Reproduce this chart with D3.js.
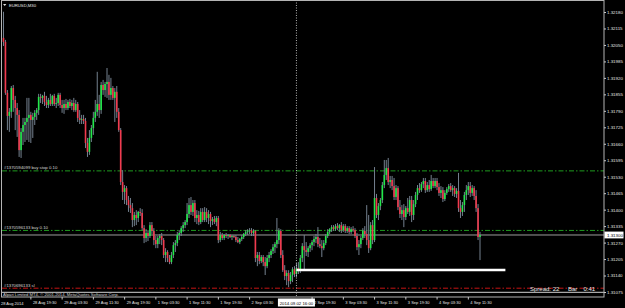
<!DOCTYPE html>
<html>
<head>
<meta charset="utf-8">
<script src="https://cdn.jsdelivr.net/npm/d3@7"></script>
<style>
  html, body { margin: 0; padding: 0; background: #000; }
  svg { display: block; font-family: "Liberation Sans", Arial, sans-serif; }
</style>
</head>
<body>
<div id="chart"></div>
<script>
(function() {

  var symbolLabel = "EURUSD,M30";

  // EURUSD M30 bars, 28 Aug 2014 13:00 .. 4 Sep 2014 15:00
  var barOpen = [
    1.32078,1.32062,1.31861,1.31770,1.31786,1.31880,1.31833,1.31801,1.31774,1.31635,
    1.31707,1.31734,1.31746,1.31762,1.31774,1.31754,1.31766,1.31782,1.31793,1.31845,
    1.31841,1.31849,1.31825,1.31813,1.31833,1.31817,1.31849,1.31817,1.31821,1.31853,
    1.31813,1.31801,1.31817,1.31801,1.31825,1.31809,1.31821,1.31793,1.31817,1.31762,
    1.31754,1.31758,1.31750,1.31663,1.31628,1.31683,1.31722,1.31762,1.31786,1.31817,
    1.31793,1.31892,1.31872,1.31896,1.31904,1.31853,1.31880,1.31841,1.31865,1.31786,
    1.31714,1.31509,1.31470,1.31485,1.31438,1.31418,1.31406,1.31359,1.31379,1.31367,
    1.31391,1.31387,1.31327,1.31288,1.31308,1.31296,1.31339,1.31316,1.31280,1.31264,
    1.31288,1.31296,1.31280,1.31221,1.31233,1.31209,1.31193,1.31221,1.31260,1.31268,
    1.31300,1.31308,1.31327,1.31339,1.31351,1.31383,1.31418,1.31391,1.31426,1.31367,
    1.31379,1.31351,1.31391,1.31359,1.31391,1.31367,1.31383,1.31355,1.31363,1.31351,
    1.31367,1.31280,1.31300,1.31288,1.31300,1.31296,1.31300,1.31292,1.31296,1.31292,
    1.31280,1.31272,1.31284,1.31292,1.31304,1.31312,1.31316,1.31319,1.31308,1.31316,
    1.31209,1.31221,1.31197,1.31213,1.31193,1.31177,1.31209,1.31221,1.31237,1.31252,
    1.31264,1.31280,1.31316,1.31221,1.31161,1.31138,1.31150,1.31118,1.31142,1.31165,
    1.31146,1.31169,1.31158,1.31209,1.31256,1.31240,1.31233,1.31248,1.31260,1.31272,
    1.31284,1.31292,1.31264,1.31256,1.31248,1.31268,1.31296,1.31312,1.31323,1.31331,
    1.31323,1.31335,1.31327,1.31339,1.31319,1.31335,1.31316,1.31327,1.31312,1.31323,
    1.31319,1.31296,1.31252,1.31264,1.31288,1.31316,1.31304,1.31280,1.31248,1.31339,
    1.31280,1.31446,1.31379,1.31414,1.31438,1.31497,1.31537,1.31564,1.31509,1.31517,
    1.31493,1.31450,1.31485,1.31410,1.31383,1.31398,1.31371,1.31406,1.31391,1.31438,
    1.31379,1.31422,1.31458,1.31485,1.31477,1.31501,1.31513,1.31477,1.31497,1.31481,
    1.31513,1.31493,1.31513,1.31489,1.31466,1.31477,1.31442,1.31466,1.31481,1.31493,
    1.31477,1.31485,1.31462,1.31474,1.31406,1.31391,1.31418,1.31458,1.31477,1.31493,
    1.31466,1.31485,1.31454,1.31406,1.31292
  ];

  var barHigh = [
    1.32181,1.32070,1.31872,1.31801,1.31888,1.31892,1.31849,1.31821,1.31793,1.31722,
    1.31762,1.31762,1.31841,1.31841,1.31786,1.31782,1.31793,1.31801,1.31857,1.31857,
    1.31853,1.31865,1.31849,1.31841,1.31857,1.31853,1.31857,1.31841,1.31861,1.31861,
    1.31833,1.31833,1.31837,1.31833,1.31837,1.31833,1.31841,1.31833,1.31825,1.31793,
    1.31774,1.31774,1.31762,1.31683,1.31714,1.31734,1.31786,1.31833,1.31944,1.31853,
    1.31904,1.31912,1.31904,1.31959,1.31932,1.31920,1.31888,1.31880,1.31888,1.31801,
    1.31722,1.31556,1.31497,1.31493,1.31454,1.31446,1.31426,1.31391,1.31398,1.31395,
    1.31406,1.31402,1.31339,1.31323,1.31319,1.31351,1.31351,1.31327,1.31296,1.31296,
    1.31304,1.31308,1.31288,1.31248,1.31240,1.31221,1.31233,1.31272,1.31280,1.31312,
    1.31319,1.31335,1.31351,1.31359,1.31426,1.31446,1.31450,1.31438,1.31438,1.31398,
    1.31395,1.31406,1.31406,1.31410,1.31406,1.31398,1.31391,1.31371,1.31375,1.31375,
    1.31375,1.31312,1.31308,1.31304,1.31308,1.31304,1.31304,1.31300,1.31300,1.31300,
    1.31292,1.31288,1.31300,1.31308,1.31319,1.31323,1.31327,1.31327,1.31323,1.31319,
    1.31233,1.31233,1.31221,1.31221,1.31213,1.31221,1.31233,1.31244,1.31264,1.31272,
    1.31367,1.31327,1.31323,1.31240,1.31181,1.31161,1.31161,1.31154,1.31173,1.31177,
    1.31189,1.31193,1.31221,1.31268,1.31300,1.31272,1.31256,1.31268,1.31280,1.31296,
    1.31304,1.31331,1.31288,1.31280,1.31280,1.31304,1.31323,1.31327,1.31339,1.31339,
    1.31343,1.31347,1.31343,1.31351,1.31343,1.31343,1.31335,1.31335,1.31331,1.31335,
    1.31327,1.31308,1.31280,1.31296,1.31327,1.31335,1.31418,1.31379,1.31351,1.31359,
    1.31568,1.31462,1.31426,1.31446,1.31509,1.31596,1.31596,1.31604,1.31533,1.31533,
    1.31525,1.31497,1.31493,1.31438,1.31418,1.31422,1.31414,1.31446,1.31454,1.31454,
    1.31438,1.31470,1.31497,1.31505,1.31509,1.31525,1.31525,1.31509,1.31517,1.31537,
    1.31525,1.31525,1.31525,1.31505,1.31493,1.31489,1.31477,1.31489,1.31501,1.31505,
    1.31497,1.31493,1.31485,1.31545,1.31438,1.31430,1.31470,1.31497,1.31509,1.31509,
    1.31497,1.31493,1.31477,1.31422,1.31312
  ];

  var barLow = [
    1.32046,1.31853,1.31714,1.31707,1.31762,1.31786,1.31714,1.31687,1.31608,1.31604,
    1.31655,1.31667,1.31675,1.31667,1.31663,1.31683,1.31734,1.31754,1.31774,1.31821,
    1.31817,1.31809,1.31801,1.31801,1.31809,1.31809,1.31809,1.31801,1.31809,1.31801,
    1.31782,1.31778,1.31793,1.31793,1.31801,1.31793,1.31786,1.31786,1.31746,1.31738,
    1.31738,1.31738,1.31643,1.31608,1.31616,1.31667,1.31695,1.31746,1.31770,1.31762,
    1.31778,1.31853,1.31845,1.31841,1.31833,1.31833,1.31833,1.31746,1.31762,1.31707,
    1.31497,1.31438,1.31422,1.31418,1.31391,1.31387,1.31331,1.31335,1.31339,1.31351,
    1.31375,1.31319,1.31268,1.31272,1.31276,1.31288,1.31304,1.31260,1.31248,1.31248,
    1.31264,1.31260,1.31209,1.31193,1.31193,1.31185,1.31185,1.31209,1.31233,1.31256,
    1.31280,1.31296,1.31312,1.31327,1.31339,1.31367,1.31379,1.31375,1.31351,1.31343,
    1.31339,1.31343,1.31351,1.31351,1.31351,1.31343,1.31331,1.31339,1.31343,1.31335,
    1.31268,1.31272,1.31280,1.31280,1.31288,1.31284,1.31288,1.31280,1.31288,1.31272,
    1.31268,1.31264,1.31276,1.31284,1.31296,1.31300,1.31304,1.31296,1.31296,1.31193,
    1.31177,1.31185,1.31189,1.31177,1.31142,1.31169,1.31193,1.31209,1.31225,1.31229,
    1.31248,1.31264,1.31209,1.31154,1.31122,1.31102,1.31094,1.31106,1.31114,1.31134,
    1.31134,1.31146,1.31150,1.31193,1.31161,1.31217,1.31213,1.31233,1.31240,1.31256,
    1.31268,1.31252,1.31248,1.31213,1.31240,1.31260,1.31288,1.31304,1.31312,1.31316,
    1.31316,1.31319,1.31312,1.31308,1.31312,1.31308,1.31308,1.31304,1.31304,1.31312,
    1.31288,1.31240,1.31221,1.31248,1.31280,1.31288,1.31260,1.31229,1.31240,1.31264,
    1.31272,1.31367,1.31359,1.31398,1.31426,1.31485,1.31517,1.31497,1.31485,1.31477,
    1.31438,1.31438,1.31398,1.31367,1.31359,1.31331,1.31359,1.31383,1.31375,1.31351,
    1.31359,1.31410,1.31438,1.31466,1.31470,1.31485,1.31466,1.31470,1.31470,1.31474,
    1.31485,1.31485,1.31477,1.31454,1.31446,1.31430,1.31434,1.31458,1.31470,1.31470,
    1.31454,1.31450,1.31446,1.31391,1.31367,1.31375,1.31391,1.31438,1.31458,1.31450,
    1.31454,1.31438,1.31391,1.31280,1.31201
  ];

  var barClose = [
    1.32062,1.31861,1.31770,1.31786,1.31880,1.31833,1.31801,1.31774,1.31635,1.31707,
    1.31734,1.31746,1.31762,1.31774,1.31754,1.31766,1.31782,1.31793,1.31845,1.31841,
    1.31849,1.31825,1.31813,1.31833,1.31817,1.31849,1.31817,1.31821,1.31853,1.31813,
    1.31801,1.31817,1.31801,1.31825,1.31809,1.31821,1.31793,1.31817,1.31762,1.31754,
    1.31758,1.31750,1.31663,1.31628,1.31683,1.31722,1.31762,1.31786,1.31817,1.31793,
    1.31892,1.31872,1.31896,1.31904,1.31853,1.31880,1.31841,1.31865,1.31786,1.31714,
    1.31509,1.31470,1.31485,1.31438,1.31418,1.31406,1.31359,1.31379,1.31367,1.31391,
    1.31387,1.31327,1.31288,1.31308,1.31296,1.31339,1.31316,1.31280,1.31264,1.31288,
    1.31296,1.31280,1.31221,1.31233,1.31209,1.31193,1.31221,1.31260,1.31268,1.31300,
    1.31308,1.31327,1.31339,1.31351,1.31383,1.31418,1.31391,1.31426,1.31367,1.31379,
    1.31351,1.31391,1.31359,1.31391,1.31367,1.31383,1.31355,1.31363,1.31351,1.31367,
    1.31280,1.31300,1.31288,1.31300,1.31296,1.31300,1.31292,1.31296,1.31292,1.31280,
    1.31272,1.31284,1.31292,1.31304,1.31312,1.31316,1.31319,1.31308,1.31316,1.31209,
    1.31221,1.31197,1.31213,1.31193,1.31177,1.31209,1.31221,1.31237,1.31252,1.31264,
    1.31280,1.31316,1.31221,1.31161,1.31138,1.31150,1.31118,1.31142,1.31165,1.31146,
    1.31169,1.31158,1.31209,1.31256,1.31240,1.31233,1.31248,1.31260,1.31272,1.31284,
    1.31292,1.31264,1.31256,1.31248,1.31268,1.31296,1.31312,1.31323,1.31331,1.31323,
    1.31335,1.31327,1.31339,1.31319,1.31335,1.31316,1.31327,1.31312,1.31323,1.31319,
    1.31296,1.31252,1.31264,1.31288,1.31316,1.31304,1.31280,1.31248,1.31339,1.31280,
    1.31446,1.31379,1.31414,1.31438,1.31497,1.31537,1.31564,1.31509,1.31517,1.31493,
    1.31450,1.31485,1.31410,1.31383,1.31398,1.31371,1.31406,1.31391,1.31438,1.31379,
    1.31422,1.31458,1.31485,1.31477,1.31501,1.31513,1.31477,1.31497,1.31481,1.31513,
    1.31493,1.31513,1.31489,1.31466,1.31477,1.31442,1.31466,1.31481,1.31493,1.31477,
    1.31485,1.31462,1.31474,1.31406,1.31391,1.31418,1.31458,1.31477,1.31493,1.31466,
    1.31485,1.31454,1.31406,1.31292,1.31300
  ];

  var priceTicks = [1.32180,1.32115,1.32050,1.31985,1.31920,1.31855,1.31790,1.31725,1.31660,
                    1.31595,1.31530,1.31465,1.31400,1.31335,1.31270,1.31205,1.31140,1.31075];

  // the 2 Sep 11:30 label sits under the crosshair time box, so it is left out
  var firstDateLabel = "28 Aug 2014";
  var timeTickBars = [13, 29, 45, 61, 77, 93, 109, 125, 157, 173, 189, 205, 221, 237];
  var timeTickLabels = ["28 Aug 19:30","29 Aug 03:30","29 Aug 11:30","29 Aug 19:30","1 Sep 03:30",
                        "1 Sep 11:30","1 Sep 19:30","2 Sep 03:30","2 Sep 19:30",
                        "3 Sep 03:30","3 Sep 11:30","3 Sep 19:30","4 Sep 03:30","4 Sep 11:30"];

  var orderNames = ["#1370594099 buy stop 0.10", "#1370596133 buy 0.10", "#1370696133 sl"];
  var orderPrices = [1.31553, 1.31318, 1.31090];
  var orderColors = ["#1f9a1f", "#1f9a1f", "#c41414"];

  var bidPrice = 1.31300;
  var crossBar = 150, crossLabel = "2014.09.02 16:00";
  var trendFromBar = 150, trendToBar = 257, trendPrice = 1.31162;
  var spreadText = "Spread: 22", barTimeText = ["Bar", "0:41"];
  var copyright = "Alpari Limited MT4, \u00a9 2001-2014, MetaQuotes Software Corp.";

  var width = 625, height = 308,
      plotRight = 604, plotBottom = 297;

  var svg = d3.select("#chart")
        .append("svg")
        .attr("width", width)
        .attr("height", height)
        .style("background", "#000");

  var x = d3.scaleLinear().domain([0, 244]).range([3.5, 480]);
  var y = d3.scaleLinear().domain([1.31075, 1.32180]).range([292, 12]);

  var bars = d3.range(barOpen.length).map(function(i) {
    return { i: i, o: barOpen[i], h: barHigh[i], l: barLow[i], c: barClose[i] };
  });

  // order levels
  var levels = svg.append("g");
  orderPrices.forEach(function(p, k) {
    levels.append("line")
      .attr("x1", 2).attr("x2", plotRight)
      .attr("y1", y(p)).attr("y2", y(p))
      .attr("stroke", orderColors[k])
      .attr("stroke-width", 1)
      .attr("stroke-dasharray", "5,2,1.5,2");
    levels.append("text")
      .attr("x", 4).attr("y", y(p) - 1.6)
      .attr("fill", "#d8d8d8")
      .attr("font-size", "4.3px")
      .text(orderNames[k]);
  });

  // bid line
  svg.append("line")
    .attr("x1", 2).attr("x2", plotRight)
    .attr("y1", y(bidPrice)).attr("y2", y(bidPrice))
    .attr("stroke", "#9c9c9c").attr("stroke-width", 1);

  // candles
  var candles = svg.append("g").selectAll("g")
    .data(bars)
    .enter().append("g");

  candles.append("line")
    .attr("x1", function(d) { return x(d.i); })
    .attr("x2", function(d) { return x(d.i); })
    .attr("y1", function(d) { return y(d.h); })
    .attr("y2", function(d) { return y(d.l); })
    .attr("stroke", "#74818f")
    .attr("stroke-width", 1);

  candles.append("rect")
    .attr("x", function(d) { return x(d.i) - 0.8; })
    .attr("width", 1.6)
    .attr("y", function(d) { return y(Math.max(d.o, d.c)); })
    .attr("height", function(d) { return Math.max(0.6, Math.abs(y(d.o) - y(d.c))); })
    .attr("fill", function(d) { return d.c >= d.o ? "#22e84a" : "#f23a4e"; });

  // drawn horizontal line
  svg.append("line")
    .attr("x1", x(trendFromBar)).attr("x2", x(trendToBar))
    .attr("y1", y(trendPrice)).attr("y2", y(trendPrice))
    .attr("stroke", "#fff").attr("stroke-width", 2.6);

  // crosshair
  svg.append("line")
    .attr("x1", x(crossBar)).attr("x2", x(crossBar))
    .attr("y1", 0).attr("y2", plotBottom)
    .attr("stroke", "#e0e0e0").attr("stroke-width", 0.8)
    .attr("stroke-dasharray", "1,1.5");

  // frame
  svg.append("rect")
    .attr("x", 1.5).attr("y", 0.5)
    .attr("width", plotRight - 1.5).attr("height", plotBottom - 0.5)
    .attr("fill", "none").attr("stroke", "#b4b4b4").attr("stroke-width", 1);
  svg.append("line")
    .attr("x1", 2).attr("x2", plotRight)
    .attr("y1", 292.3).attr("y2", 292.3)
    .attr("stroke", "#a8a8a8").attr("stroke-width", 1.2);

  svg.append("text")
    .attr("x", 3).attr("y", 296.3)
    .attr("fill", "#d0d0d0").attr("font-size", "4.2px")
    .text(copyright);

  // spread / bar timer
  svg.append("text")
    .attr("x", 530).attr("y", 290.6)
    .attr("fill", "#e8e8e8").attr("font-size", "6px")
    .text(spreadText);
  svg.append("text")
    .attr("x", 568).attr("y", 290.6)
    .attr("fill", "#e8e8e8").attr("font-size", "6px")
    .text(barTimeText[0]);
  svg.append("text")
    .attr("x", 583.5).attr("y", 290.6)
    .attr("fill", "#e8e8e8").attr("font-size", "6px")
    .text(barTimeText[1]);

  // symbol
  svg.append("path")
    .attr("d", "M3,4 L6.4,4 L4.7,6 Z")
    .attr("fill", "#e0e0e0");
  svg.append("text")
    .attr("x", 9).attr("y", 6.8)
    .attr("fill", "#e8e8e8").attr("font-size", "4.2px")
    .text(symbolLabel);

  // price axis
  var yAxis = d3.axisRight(y)
    .tickValues(priceTicks)
    .tickFormat(d3.format(".5f"))
    .tickSize(2)
    .tickPadding(1);
  var ya = svg.append("g")
    .attr("transform", "translate(" + plotRight + ",0)")
    .call(yAxis);
  ya.select(".domain").remove();
  ya.selectAll("line").attr("stroke", "#c8c8c8");
  ya.selectAll("text").attr("fill", "#e6e6e6").attr("font-size", "4.4px")
    .attr("font-family", "'Liberation Sans', Arial, sans-serif");

  // bid price box
  var bidG = svg.append("g");
  bidG.append("rect")
    .attr("x", 604.5).attr("y", y(bidPrice) - 3.4)
    .attr("width", 19).attr("height", 6.8)
    .attr("fill", "#fff");
  bidG.append("text")
    .attr("x", 607).attr("y", y(bidPrice) + 1.6)
    .attr("fill", "#000").attr("font-size", "4.4px")
    .text(d3.format(".5f")(bidPrice));

  // time axis
  var xAxis = d3.axisBottom(x)
    .tickValues(timeTickBars)
    .tickFormat(function(d, k) { return timeTickLabels[k]; })
    .tickSize(2.5)
    .tickPadding(1.5);
  var xa = svg.append("g")
    .attr("transform", "translate(0," + plotBottom + ")")
    .call(xAxis);
  xa.select(".domain").remove();
  xa.selectAll("line").attr("stroke", "#c8c8c8").attr("transform", "translate(1.5,0)");
  xa.selectAll("text")
    .attr("text-anchor", "start")
    .attr("dx", 3.5)
    .attr("fill", "#e6e6e6").attr("font-size", "4px")
    .attr("font-family", "'Liberation Sans', Arial, sans-serif");

  svg.append("text")
    .attr("x", 1).attr("y", 305)
    .attr("fill", "#e6e6e6").attr("font-size", "4px")
    .text(firstDateLabel);

  // crosshair time box
  svg.append("rect")
    .attr("x", x(crossBar) - 18.5).attr("y", 298.5)
    .attr("width", 37).attr("height", 8)
    .attr("fill", "#fff");
  svg.append("text")
    .attr("x", x(crossBar)).attr("y", 305)
    .attr("text-anchor", "middle")
    .attr("fill", "#000").attr("font-size", "4.3px")
    .text(crossLabel);

})();
</script>
</body>
</html>
